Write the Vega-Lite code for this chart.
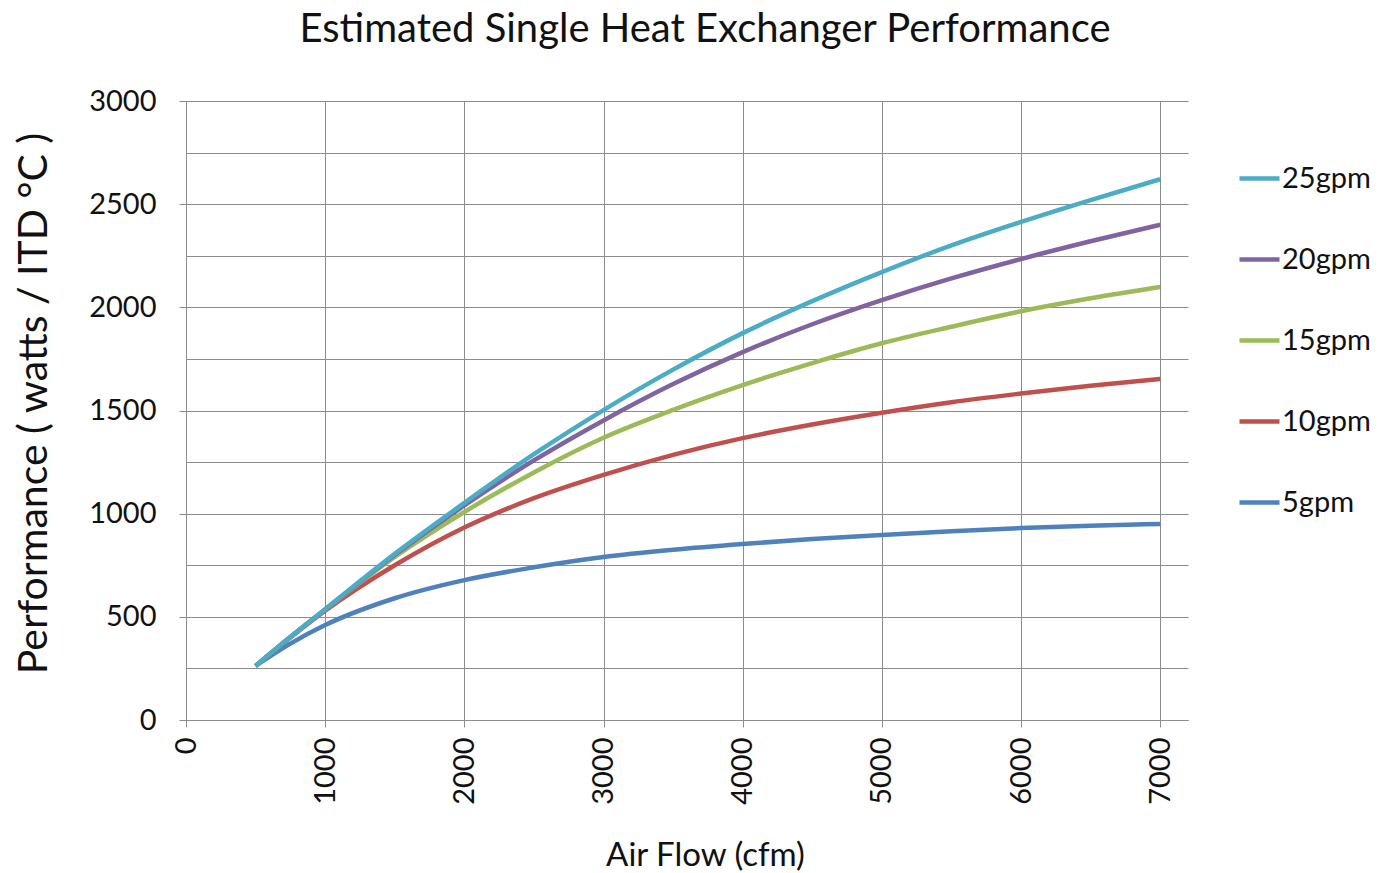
{
  "$schema": "https://vega.github.io/schema/vega-lite/v6.json",
  "width": 1002,
  "height": 619,
  "autosize": {"type": "none"},
  "padding": {"left": 186, "top": 101, "right": 195, "bottom": 153},
  "background": "white",
  "config": {
    "view": {"stroke": null},
    "font": "Lato"
  },
  "title": {
    "text": "Estimated Single Heat Exchanger Performance",
    "font": "Lato",
    "fontSize": 40,
    "fontWeight": "normal",
    "color": "#111111",
    "anchor": "middle",
    "dx": 18,
    "offset": 37
  },
  "data": {
    "values": [
      {"flow": 500, "gpm": "5gpm", "perf": 262},
      {"flow": 750, "gpm": "5gpm", "perf": 370},
      {"flow": 1000, "gpm": "5gpm", "perf": 460},
      {"flow": 1500, "gpm": "5gpm", "perf": 590},
      {"flow": 2000, "gpm": "5gpm", "perf": 678},
      {"flow": 2500, "gpm": "5gpm", "perf": 740},
      {"flow": 3000, "gpm": "5gpm", "perf": 790},
      {"flow": 3500, "gpm": "5gpm", "perf": 825},
      {"flow": 4000, "gpm": "5gpm", "perf": 853},
      {"flow": 4500, "gpm": "5gpm", "perf": 877},
      {"flow": 5000, "gpm": "5gpm", "perf": 897},
      {"flow": 5500, "gpm": "5gpm", "perf": 915},
      {"flow": 6000, "gpm": "5gpm", "perf": 930},
      {"flow": 6500, "gpm": "5gpm", "perf": 941},
      {"flow": 7000, "gpm": "5gpm", "perf": 950},
      {"flow": 500, "gpm": "10gpm", "perf": 262},
      {"flow": 750, "gpm": "10gpm", "perf": 400},
      {"flow": 1000, "gpm": "10gpm", "perf": 530},
      {"flow": 1500, "gpm": "10gpm", "perf": 750},
      {"flow": 2000, "gpm": "10gpm", "perf": 933},
      {"flow": 2500, "gpm": "10gpm", "perf": 1075},
      {"flow": 3000, "gpm": "10gpm", "perf": 1188},
      {"flow": 3500, "gpm": "10gpm", "perf": 1285},
      {"flow": 4000, "gpm": "10gpm", "perf": 1366},
      {"flow": 4500, "gpm": "10gpm", "perf": 1432},
      {"flow": 5000, "gpm": "10gpm", "perf": 1489},
      {"flow": 5500, "gpm": "10gpm", "perf": 1540},
      {"flow": 6000, "gpm": "10gpm", "perf": 1582},
      {"flow": 6500, "gpm": "10gpm", "perf": 1620},
      {"flow": 7000, "gpm": "10gpm", "perf": 1653},
      {"flow": 500, "gpm": "15gpm", "perf": 262},
      {"flow": 750, "gpm": "15gpm", "perf": 402},
      {"flow": 1000, "gpm": "15gpm", "perf": 535},
      {"flow": 1500, "gpm": "15gpm", "perf": 790},
      {"flow": 2000, "gpm": "15gpm", "perf": 1008},
      {"flow": 2500, "gpm": "15gpm", "perf": 1200},
      {"flow": 3000, "gpm": "15gpm", "perf": 1368},
      {"flow": 3500, "gpm": "15gpm", "perf": 1503},
      {"flow": 4000, "gpm": "15gpm", "perf": 1623},
      {"flow": 4500, "gpm": "15gpm", "perf": 1730},
      {"flow": 5000, "gpm": "15gpm", "perf": 1826},
      {"flow": 5500, "gpm": "15gpm", "perf": 1906},
      {"flow": 6000, "gpm": "15gpm", "perf": 1981},
      {"flow": 6500, "gpm": "15gpm", "perf": 2044},
      {"flow": 7000, "gpm": "15gpm", "perf": 2099},
      {"flow": 500, "gpm": "20gpm", "perf": 262},
      {"flow": 750, "gpm": "20gpm", "perf": 402},
      {"flow": 1000, "gpm": "20gpm", "perf": 536},
      {"flow": 1500, "gpm": "20gpm", "perf": 800},
      {"flow": 2000, "gpm": "20gpm", "perf": 1040},
      {"flow": 2500, "gpm": "20gpm", "perf": 1258},
      {"flow": 3000, "gpm": "20gpm", "perf": 1452},
      {"flow": 3500, "gpm": "20gpm", "perf": 1628},
      {"flow": 4000, "gpm": "20gpm", "perf": 1783},
      {"flow": 4500, "gpm": "20gpm", "perf": 1918},
      {"flow": 5000, "gpm": "20gpm", "perf": 2035},
      {"flow": 5500, "gpm": "20gpm", "perf": 2140},
      {"flow": 6000, "gpm": "20gpm", "perf": 2234},
      {"flow": 6500, "gpm": "20gpm", "perf": 2320},
      {"flow": 7000, "gpm": "20gpm", "perf": 2400},
      {"flow": 500, "gpm": "25gpm", "perf": 262},
      {"flow": 750, "gpm": "25gpm", "perf": 402},
      {"flow": 1000, "gpm": "25gpm", "perf": 537},
      {"flow": 1500, "gpm": "25gpm", "perf": 805},
      {"flow": 2000, "gpm": "25gpm", "perf": 1052},
      {"flow": 2500, "gpm": "25gpm", "perf": 1288},
      {"flow": 3000, "gpm": "25gpm", "perf": 1502},
      {"flow": 3500, "gpm": "25gpm", "perf": 1698},
      {"flow": 4000, "gpm": "25gpm", "perf": 1875},
      {"flow": 4500, "gpm": "25gpm", "perf": 2030},
      {"flow": 5000, "gpm": "25gpm", "perf": 2171},
      {"flow": 5500, "gpm": "25gpm", "perf": 2300},
      {"flow": 6000, "gpm": "25gpm", "perf": 2414},
      {"flow": 6500, "gpm": "25gpm", "perf": 2520},
      {"flow": 7000, "gpm": "25gpm", "perf": 2621}
    ]
  },
  "mark": {"type": "line", "strokeWidth": 4.5, "interpolate": "monotone"},
  "encoding": {
    "x": {
      "field": "flow",
      "type": "quantitative",
      "scale": {"domain": [0, 7200], "nice": false, "zero": true},
      "axis": {
        "values": [0, 1000, 2000, 3000, 4000, 5000, 6000, 7000],
        "format": "d",
        "title": "Air Flow (cfm)",
        "titleFont": "Lato",
        "titleFontSize": 33,
        "titleFontWeight": "normal",
        "titleColor": "#111111",
        "titleX": 519,
        "titleY": 145,
        "titleAlign": "center",
        "titleBaseline": "alphabetic",
        "labelAngle": -90,
        "labelFont": "Lato",
        "labelFontSize": 29,
        "labelColor": "#111111",
        "labelPadding": 10,
        "labelFlush": false,
        "labelOverlap": false,
        "grid": true,
        "gridColor": "#8c8c8c",
        "gridWidth": 1,
        "domainColor": "#8c8c8c",
        "tickColor": "#8c8c8c",
        "tickSize": 7
      }
    },
    "y": {
      "field": "perf",
      "type": "quantitative",
      "scale": {"domain": [0, 3000], "nice": false},
      "axis": {
        "values": [0, 250, 500, 750, 1000, 1250, 1500, 1750, 2000, 2250, 2500, 2750, 3000],
        "labelExpr": "datum.value % 500 === 0 ? datum.label : ''",
        "format": "d",
        "title": "Performance ( watts / ITD °C )",
        "titleFont": "Lato",
        "titleFontSize": 41,
        "titleFontWeight": "normal",
        "titleColor": "#111111",
        "titleAngle": -90,
        "titleX": -152,
        "titleY": 302,
        "titleAlign": "center",
        "titleBaseline": "middle",
        "labelFont": "Lato",
        "labelFontSize": 29,
        "labelColor": "#111111",
        "labelPadding": 23,
        "grid": true,
        "gridColor": "#8c8c8c",
        "gridWidth": 1,
        "domainColor": "#8c8c8c",
        "tickColor": "#8c8c8c",
        "tickOpacity": {"condition": {"test": "datum.value % 500 === 0", "value": 1}, "value": 0},
        "tickSize": 7
      }
    },
    "color": {
      "field": "gpm",
      "type": "nominal",
      "sort": ["25gpm", "20gpm", "15gpm", "10gpm", "5gpm"],
      "scale": {
        "domain": ["25gpm", "20gpm", "15gpm", "10gpm", "5gpm"],
        "range": ["#4bacc6", "#8064a2", "#9bbb59", "#c0504d", "#4f81bd"]
      },
      "legend": {
        "title": null,
        "orient": "none",
        "legendX": 1051,
        "legendY": 55,
        "symbolType": "stroke",
        "symbolSize": 1600,
        "symbolStrokeWidth": 4.5,
        "labelFont": "Lato",
        "labelFontSize": 29,
        "labelColor": "#111111",
        "labelOffset": 0,
        "rowPadding": 43,
        "labelLimit": 300
      }
    }
  }
}
